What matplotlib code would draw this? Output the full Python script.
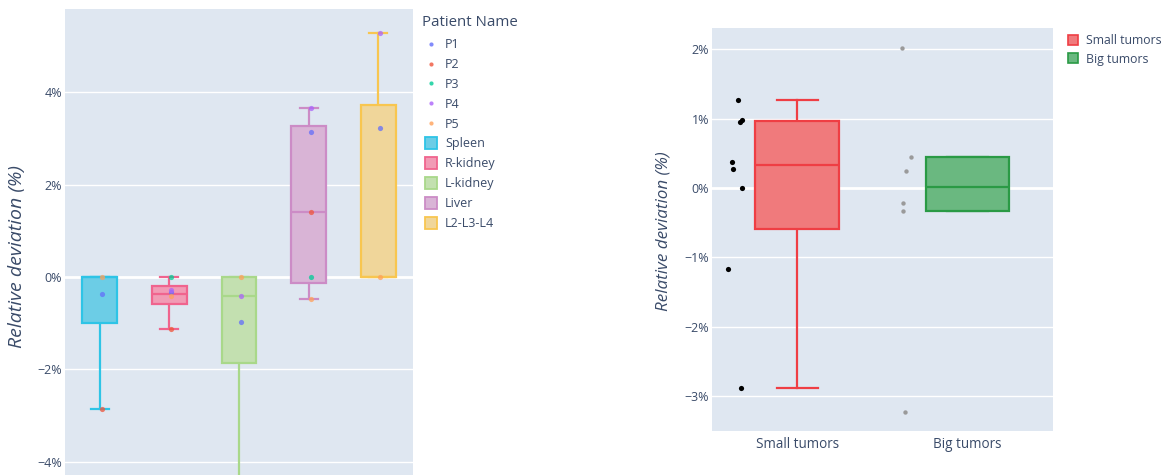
import numpy as np
import matplotlib
matplotlib.use("Agg")
import matplotlib.pyplot as plt
from matplotlib.lines import Line2D

# ---------------- data ----------------
organs = ["Spleen", "R-kidney", "L-kidney", "Liver", "L2-L3-L4"]
patients = ["P1", "P2", "P3", "P4", "P5"]

# box statistics per organ (relative deviation, %)
organ_q1 = [-1.00, -0.59, -1.86, -0.13, 0.00]
organ_med = [0.00, -0.38, -0.42, 1.41, 0.00]
organ_q3 = [0.00, -0.20, 0.00, 3.26, 3.73]
organ_lo = [-2.86, -1.12, -6.00, -0.48, 0.00]
organ_hi = [0.00, 0.00, 0.00, 3.66, 5.27]

# individual patient values per organ (None = not shown)
p1_vals = [-0.37, -0.33, -0.98, 3.13, 3.23]
p2_vals = [-2.86, -1.12, None, 1.41, None]
p3_vals = [None, 0.00, None, 0.00, None]
p4_vals = [None, -0.29, -0.42, 3.66, 5.27]
p5_vals = [0.00, -0.42, 0.00, -0.48, 0.00]

tumor_groups = ["Small tumors", "Big tumors"]
tumor_q1 = [-0.59, -0.33]
tumor_med = [0.33, 0.02]
tumor_q3 = [0.97, 0.45]
tumor_lo = [-2.875, -0.33]
tumor_hi = [1.27, 0.45]
small_tumor_pts = [1.27, 0.985, 0.957, 0.375, 0.274, 0.0, -1.168, -2.875]
big_tumor_pts = [0.447, 0.25, -0.21, -0.327, 2.01, -3.226]

left_ticks = [-4, -2, 0, 2, 4]
right_ticks = [-3, -2, -1, 0, 1, 2]

# ---------------- style ----------------
W, H = 1170, 475
BG = "#dfe7f1"
TXT = "#3a4b69"
FONT = "Open Sans"
plt.rcParams["font.family"] = [FONT, "DejaVu Sans"]

patient_colors = ["#636efa", "#ef553b", "#00cc96", "#ab63fa", "#ffa15a"]
organ_edge = ["#2ec4e6", "#f0648e", "#a9d88a", "#cc8cc6", "#f8c650"]
organ_fill = ["#6ccde6", "#f19bb5", "#c3e0b0", "#d9b4d6", "#f0d69a"]
tumor_edge = ["#ef3e44", "#2a9a45"]
tumor_fill = ["#f07a7c", "#6ab880"]


def px(v):
    return v * 72.0 / 100.0


def fmt_pct(v):
    s = f"{abs(v):g}%"
    return ("\u2212" + s) if v < 0 else s


def style_axes(ax, ticks):
    ax.set_facecolor(BG)
    for sp in ax.spines.values():
        sp.set_visible(False)
    ax.set_yticks(ticks)
    ax.set_yticklabels([fmt_pct(t) for t in ticks])
    ax.tick_params(axis="y", length=0, pad=2, labelsize=px(12.5), labelcolor=TXT)
    ax.tick_params(axis="x", length=0)
    ax.yaxis.grid(True, color="white", linewidth=1.0)
    ax.set_axisbelow(True)
    ax.axhline(0, color="white", linewidth=2.0, zorder=0.5)


def draw_boxes(ax, q1, med, q3, lo, hi, edges, fills, width, capw):
    stats = []
    for i in range(len(q1)):
        stats.append(dict(q1=q1[i], med=med[i], q3=q3[i],
                          whislo=lo[i], whishi=hi[i], fliers=[]))
    pos = np.arange(len(q1))
    res = ax.bxp(stats, positions=pos, widths=width, patch_artist=True,
                 showfliers=False, capwidths=capw, manage_ticks=False)
    for i, box in enumerate(res["boxes"]):
        box.set_facecolor(fills[i])
        box.set_edgecolor(edges[i])
        box.set_linewidth(1.6)
        box.set_zorder(2)
    for i, m in enumerate(res["medians"]):
        m.set_color(edges[i])
        m.set_linewidth(1.6)
        m.set_zorder(3)
    for key in ("whiskers", "caps"):
        for j, ln in enumerate(res[key]):
            ln.set_color(edges[j // 2])
            ln.set_linewidth(1.6)
            ln.set_zorder(1.5)
    return pos


fig = plt.figure(figsize=(W / 100, H / 100), dpi=100)

# ---------------- left chart ----------------
axL = fig.add_axes([65 / W, 0.0, (413 - 65) / W, 1 - 9 / H])
style_axes(axL, left_ticks)
axL.set_ylim(-4.29, 5.8)
axL.set_xlim(-0.5, len(organs) - 0.5)
axL.set_xticks([])
posL = draw_boxes(axL, organ_q1, organ_med, organ_q3, organ_lo, organ_hi,
                  organ_edge, organ_fill, 0.5, 0.26)

for vals, col in zip([p1_vals, p2_vals, p3_vals, p4_vals, p5_vals], patient_colors):
    xs = [posL[i] + 0.03 for i, v in enumerate(vals) if v is not None]
    ys = [v for v in vals if v is not None]
    axL.scatter(xs, ys, s=14, color=col, alpha=0.75, linewidths=0, zorder=4)

fig.text(17 / W, 1 - 257 / H, "Relative deviation (%)", rotation=90,
         ha="center", va="center", fontsize=px(19.5), style="italic", color=TXT)

# legend for left chart (patients then organs)
fig.text(422 / W, 1 - 22 / H, "Patient Name", ha="left", va="center",
         fontsize=px(15), color=TXT)
handles = []
for p, c in zip(patients, patient_colors):
    handles.append(Line2D([], [], linestyle="none", marker="o", markersize=3.0,
                          markerfacecolor=c, markeredgewidth=0, alpha=0.8, label=p))
for o, ec, fc in zip(organs, organ_edge, organ_fill):
    handles.append(Line2D([], [], linestyle="none", marker="s", markersize=8.0,
                          markerfacecolor=fc, markeredgecolor=ec,
                          markeredgewidth=1.3, label=o))
legL = fig.legend(handles=handles, loc="upper left",
                  bbox_to_anchor=(425 / W, 1 - 38 / H), frameon=False,
                  fontsize=px(12.5), handlelength=1.0, handletextpad=0.6,
                  labelspacing=0.55, borderaxespad=0, borderpad=0)
for t in legL.get_texts():
    t.set_color(TXT)

# ---------------- right chart ----------------
axR = fig.add_axes([712 / W, 1 - 431 / H, (1052.7 - 712) / W, (431 - 28.3) / H])
style_axes(axR, right_ticks)
axR.set_ylim(-3.5, 2.3)
axR.set_xlim(-0.5, len(tumor_groups) - 0.5)
posR = draw_boxes(axR, tumor_q1, tumor_med, tumor_q3, tumor_lo, tumor_hi,
                  tumor_edge, tumor_fill, 0.49, 0.24)
axR.set_xticks(posR)
axR.set_xticklabels(tumor_groups)
axR.tick_params(axis="x", pad=4, labelsize=px(13.5), labelcolor=TXT)

# points drawn beside each box with a small horizontal jitter
rng = np.random.default_rng(7)
half_w = 0.49 / 2
for i, (pts, col, sz) in enumerate([(small_tumor_pts, "black", 14),
                                     (big_tumor_pts, "#9a9a9a", 10)]):
    jit = rng.uniform(-0.045, 0.045, len(pts))
    xs = posR[i] - 1.47 * half_w + jit
    axR.scatter(xs, pts, s=sz, color=col, linewidths=0, zorder=4)

fig.text(663 / W, 1 - 231 / H, "Relative deviation (%)", rotation=90,
         ha="center", va="center", fontsize=px(17), style="italic", color=TXT)

handlesR = [Line2D([], [], linestyle="none", marker="s", markersize=7.5,
                   markerfacecolor=fc, markeredgecolor=ec, markeredgewidth=1.2,
                   label=g)
            for g, ec, fc in zip(tumor_groups, tumor_edge, tumor_fill)]
legR = fig.legend(handles=handlesR, loc="upper left",
                  bbox_to_anchor=(1067 / W, 1 - 34 / H), frameon=False,
                  fontsize=px(12.3), handlelength=1.0, handletextpad=0.55,
                  labelspacing=0.45, borderaxespad=0, borderpad=0)
for t in legR.get_texts():
    t.set_color(TXT)

fig.savefig("out.png", dpi=100, facecolor="white")
